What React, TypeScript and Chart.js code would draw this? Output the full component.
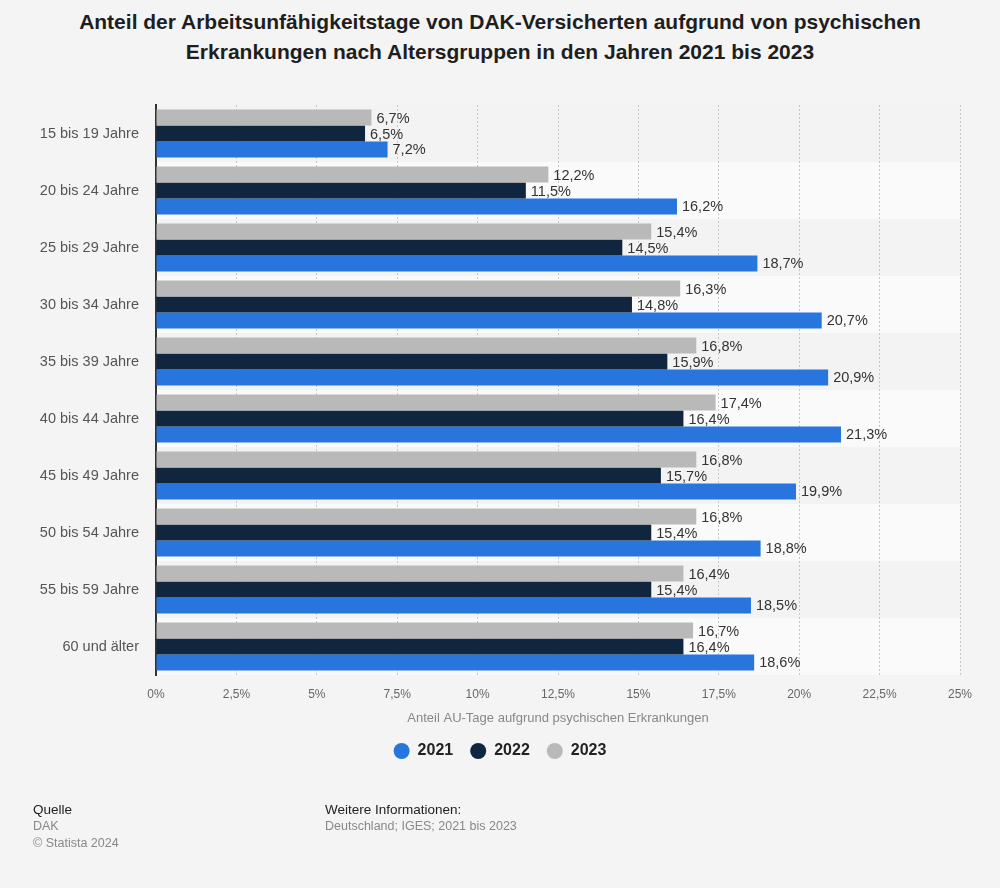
import React, { useEffect, useRef } from "react";
import { Chart, registerables } from "chart.js";

Chart.register(...registerables);

const categories = [
  "15 bis 19 Jahre",
  "20 bis 24 Jahre",
  "25 bis 29 Jahre",
  "30 bis 34 Jahre",
  "35 bis 39 Jahre",
  "40 bis 44 Jahre",
  "45 bis 49 Jahre",
  "50 bis 54 Jahre",
  "55 bis 59 Jahre",
  "60 und älter",
];
const values2021 = [7.2, 16.2, 18.7, 20.7, 20.9, 21.3, 19.9, 18.8, 18.5, 18.6];
const values2022 = [6.5, 11.5, 14.5, 14.8, 15.9, 16.4, 15.7, 15.4, 15.4, 16.4];
const values2023 = [6.7, 12.2, 15.4, 16.3, 16.8, 17.4, 16.8, 16.8, 16.4, 16.7];
const xTickValues = [0, 2.5, 5, 7.5, 10, 12.5, 15, 17.5, 20, 22.5, 25];
const xTickLabels = ["0%", "2,5%", "5%", "7,5%", "10%", "12,5%", "15%", "17,5%", "20%", "22,5%", "25%"];

const FONT = "'Liberation Sans', Arial, Helvetica, sans-serif";

const fmt = (v: number) => v.toFixed(1).replace(".", ",") + "%";

const bandsPlugin = {
  id: "bands",
  beforeDraw(chart: any) {
    const { ctx, chartArea, scales } = chart;
    const y = scales.y;
    const n = categories.length;
    const step = (chartArea.bottom - chartArea.top) / n;
    ctx.save();
    for (let i = 0; i < n; i++) {
      const c = y.getPixelForValue(i);
      ctx.fillStyle = i % 2 === 1 ? "#fafafa" : "#f3f3f3";
      ctx.fillRect(chartArea.left, c - step / 2, chartArea.right - chartArea.left, step);
    }
    ctx.restore();
  },
};

const labelsPlugin = {
  id: "valueLabels",
  afterDatasetsDraw(chart: any) {
    const { ctx } = chart;
    ctx.save();
    ctx.font = `14.5px ${FONT}`;
    ctx.fillStyle = "#333333";
    ctx.textAlign = "left";
    ctx.textBaseline = "middle";
    chart.data.datasets.forEach((ds: any, di: number) => {
      const meta = chart.getDatasetMeta(di);
      meta.data.forEach((bar: any, i: number) => {
        ctx.fillText(fmt(ds.data[i]), bar.x + 5, bar.y + 1);
      });
    });
    ctx.restore();
  },
};

export default function App() {
  const ref = useRef<HTMLCanvasElement>(null);

  useEffect(() => {
    document.body.style.margin = "0";
    const chart = new Chart(ref.current!, {
      type: "bar",
      data: {
        labels: categories,
        datasets: [
          { label: "2023", data: values2023, backgroundColor: "#b9b9b9", borderWidth: 0 },
          { label: "2022", data: values2022, backgroundColor: "#10263f", borderWidth: 0 },
          { label: "2021", data: values2021, backgroundColor: "#2876dd", borderWidth: 0 },
        ],
      },
      options: {
        indexAxis: "y",
        responsive: false,
        animation: false,
        maintainAspectRatio: false,
        layout: { padding: { top: 105, right: 20, bottom: 119, left: 20 } },
        datasets: { bar: { categoryPercentage: 0.84, barPercentage: 1.0 } },
        scales: {
          x: {
            min: 0,
            max: 25,
            afterBuildTicks(scale: any) {
              scale.ticks = xTickValues.map((v) => ({ value: v }));
            },
            afterFit(scale: any) {
              scale.height = 51;
            },
            ticks: {
              padding: 12,
              color: "#666666",
              font: { family: FONT, size: 12 },
              callback: (_v: any, i: number) => xTickLabels[i],
            },
            grid: {
              color: "#c8c8c8",
              lineWidth: 1,
              drawTicks: false,
            },
            border: { display: false, dash: [2, 2] },
            title: {
              display: true,
              text: "Anteil AU-Tage aufgrund psychischen Erkrankungen",
              color: "#888888",
              font: { family: FONT, size: 13 },
              padding: { top: 4, bottom: 0 },
            },
          },
          y: {
            afterFit(scale: any) {
              scale.width = 136;
            },
            ticks: {
              padding: 17,
              color: "#555555",
              font: { family: FONT, size: 14.5 },
            },
            grid: { display: false, drawTicks: false },
            border: { display: true, color: "#333333", width: 2 },
          },
          yRight: {
            position: "right",
            afterFit(scale: any) {
              scale.width = 20;
            },
            ticks: { display: false },
            grid: { display: false, drawTicks: false },
            border: { display: false },
          },
        },
        plugins: {
          legend: {
            position: "bottom",
            reverse: true,
            labels: {
              usePointStyle: true,
              pointStyle: "circle",
              boxWidth: 16,
              boxHeight: 11.3,
              pointStyleWidth: 16,
              padding: 17,
              color: "#222222",
              font: { family: FONT, size: 16, weight: "bold" },
            },
          },
          tooltip: { enabled: false },
        },
      },
      plugins: [bandsPlugin, labelsPlugin],
    } as any);
    return () => chart.destroy();
  }, []);

  return (
    <div
      style={{
        position: "relative",
        width: 1000,
        height: 888,
        background: "#f4f4f4",
        fontFamily: FONT,
        overflow: "hidden",
      }}
    >
      <div
        style={{
          position: "absolute",
          top: 7,
          left: 0,
          width: 1000,
          textAlign: "center",
          fontWeight: "bold",
          fontSize: 21,
          lineHeight: "30px",
          color: "#1e1e1e",
        }}
      >
        Anteil der Arbeitsunfähigkeitstage von DAK-Versicherten aufgrund von psychischen
        <br />
        Erkrankungen nach Altersgruppen in den Jahren 2021 bis 2023
      </div>
      <canvas
        ref={ref}
        width={1000}
        height={888}
        style={{ position: "absolute", top: 0, left: 0, width: 1000, height: 888 }}
      />
      <div style={{ position: "absolute", left: 33, top: 801, fontSize: 13.5, lineHeight: "17px" }}>
        <div style={{ color: "#222" }}>Quelle</div>
        <div style={{ color: "#888", fontSize: 12.5 }}>DAK</div>
        <div style={{ color: "#888", fontSize: 12.5 }}>© Statista 2024</div>
      </div>
      <div style={{ position: "absolute", left: 325, top: 801, fontSize: 13.5, lineHeight: "17px" }}>
        <div style={{ color: "#222" }}>Weitere Informationen:</div>
        <div style={{ color: "#888", fontSize: 12.5 }}>Deutschland; IGES; 2021 bis 2023</div>
      </div>
    </div>
  );
}
